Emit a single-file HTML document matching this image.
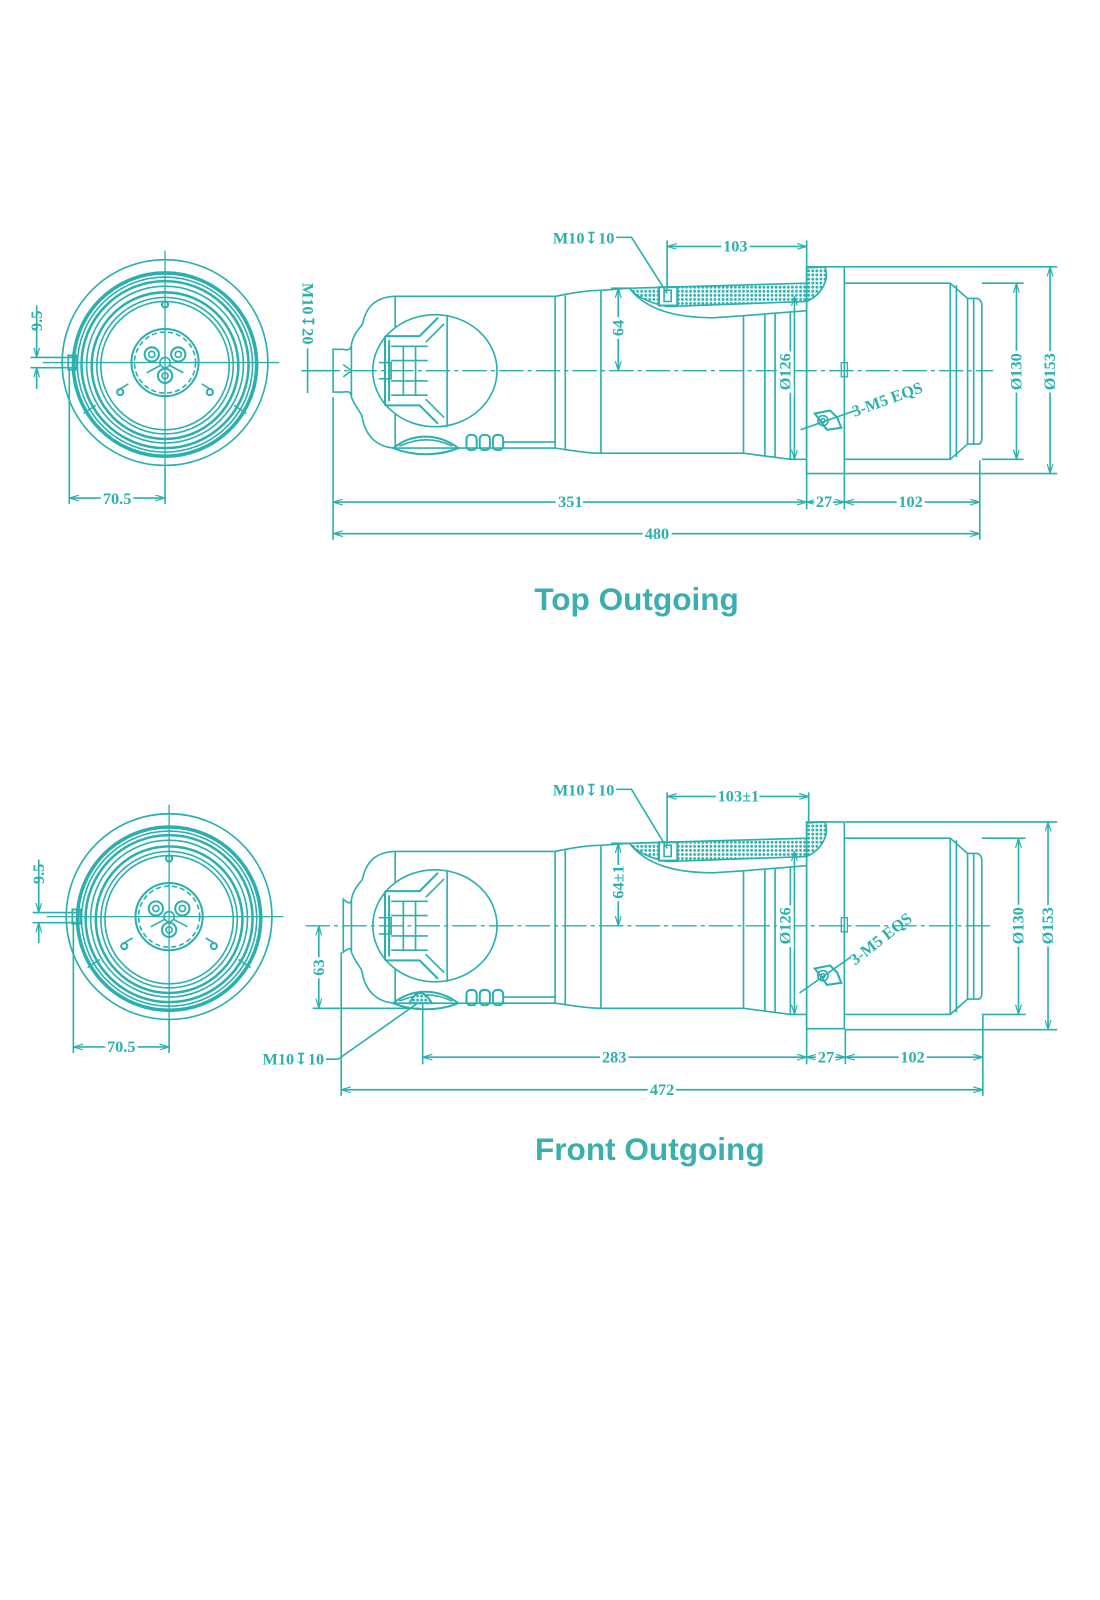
<!DOCTYPE html>
<html><head><meta charset="utf-8"><style>
html,body{margin:0;padding:0;background:#fff;}
svg{display:block}
text{font-family:"Liberation Serif","DejaVu Serif",serif;font-weight:bold;fill:#2bb0ae;}
.t{font-family:"Liberation Sans",sans-serif;font-size:31px;fill:#3aafae;}
</style></head><body>
<svg width="1100" height="1600" viewBox="0 0 1080 1571" xmlns="http://www.w3.org/2000/svg">
<defs>
<pattern id="h" width="4" height="4" patternUnits="userSpaceOnUse"><rect width="4" height="4" fill="#fff"/><circle cx="2" cy="2" r="1.4" fill="#2bb0ae"/></pattern>
<marker id="a" viewBox="0 0 10 6" refX="10" refY="3" markerWidth="6" markerHeight="4" orient="auto-start-reverse"><path d="M0,0 L10,3 L0,6" fill="none" stroke="#2bb0ae" stroke-width="1.2"/></marker>

<g id="circ">
 <circle r="101" fill="none" stroke-width="1.6"/>
 <circle cy="2" r="90" fill="none" stroke-width="3.5"/>
 <circle cy="2" r="86" fill="none" stroke-width="1.6"/>
 <circle cy="2" r="82" fill="none" stroke-width="2.5"/>
 <circle cy="2" r="77" fill="none" stroke-width="1.6"/>
 <circle cy="3" r="72" fill="none" stroke-width="2.5"/>
 <circle cy="3" r="67" fill="none" stroke-width="1.6"/>
 <circle cy="3" r="63" fill="none" stroke-width="1.6"/>
 <circle r="33" fill="none" stroke-width="2"/>
 <circle r="30" fill="none" stroke-dasharray="5 3"/>
 <circle cx="-13" cy="-8" r="7" fill="none" stroke-width="2"/><circle cx="-13" cy="-8" r="3" fill="none"/>
 <circle cx="13" cy="-8" r="7" fill="none" stroke-width="2"/><circle cx="13" cy="-8" r="3" fill="none"/>
 <circle cx="0" cy="13" r="7" fill="none" stroke-width="2"/><circle cx="0" cy="13" r="3" fill="none"/>
 <circle r="5" fill="none"/>
 <path d="M-46,27 L-36,21 M46,27 L36,21 M-80,50 L-68,42 M80,50 L68,42 M-18,10 L-5,3 M18,10 L5,3" fill="none"/>
 <circle cx="-44" cy="29" r="3" fill="none" stroke-width="2"/><circle cx="44" cy="29" r="3" fill="none" stroke-width="2"/>
 <circle cx="0" cy="-57" r="3" fill="none" stroke-width="2"/>
 <rect x="-95" y="-7" width="8" height="14" fill="none" stroke-width="1.8"/>
 <path d="M-120,0 H112 M0,-110 V105" stroke-width="1.3"/>
</g>

<g id="body" fill="none">
 <path d="M345,338 C348,325 354,322 356,318 C360,298 372,291 390,291 L545,291 C560,288 575,285 590,285 L618,283"/>
 <path d="M345,390 C350,402 356,406 356,412 C360,430 372,440 390,440 L545,440 C560,442 575,445 590,445 L730,445 L776,451 L792,451"/>
 <line x1="388" y1="291" x2="388" y2="440"/>
 <line x1="545" y1="291" x2="545" y2="440"/><line x1="555" y1="290" x2="555" y2="441"/>
 <line x1="590" y1="285" x2="590" y2="445"/>
 <line x1="730" y1="310" x2="730" y2="445"/><line x1="751" y1="309" x2="751" y2="448"/><line x1="761" y1="308" x2="761" y2="449"/><line x1="776" y1="307" x2="776" y2="451"/>
 <ellipse cx="427" cy="364" rx="61" ry="55" fill="#fff"/>
 <line x1="439" y1="310" x2="439" y2="419"/>
 <path d="M378,330 H412 L430,312 M378,398 H412 L430,416 M378,330 V398 M382,334 V394" stroke-width="2"/>
 <path d="M384,340 H420 M384,354 H420 M384,374 H420 M384,388 H420 M396,340 V388 M408,340 V388 M372,356 H384 V372 H372" />
 <path d="M418,336 L436,318 M418,392 L436,410"/>
 <path d="M386,440 C405,425 430,425 450,440 C430,448 405,448 386,440 Z" stroke-width="2"/>
 <path d="M392,438 C410,430 428,430 444,438"/>
 <rect x="458" y="427" width="10" height="15" rx="4" stroke-width="2"/><rect x="471" y="427" width="10" height="15" rx="4" stroke-width="2"/><rect x="484" y="427" width="10" height="15" rx="4" stroke-width="2"/>
 <line x1="494" y1="434" x2="545" y2="434"/>
 <path d="M618,283 L792,278 L792,263 L810,262 C815,275 806,290 792,296 L655,301 C640,298 625,292 618,283 Z" fill="url(#h)"/>
 <path d="M618,283 C635,305 665,312 700,312 L730,310 L792,305"/>
 <rect x="647" y="282" width="18" height="18" fill="#fff" stroke-width="2"/>
 <rect x="652" y="285" width="7" height="11"/>
 <path d="M792,262 H829 V465 H792 Z" fill="none"/>
 <line x1="792" y1="278" x2="792" y2="452"/>
 <rect x="826" y="356" width="6" height="14" stroke-width="1.3"/>
 <path d="M829,278 H933 L950,293 L960,293 Q964,295 964,300 V430 Q964,436 960,436 L950,436 L933,451 H829"/>
 <line x1="933" y1="278" x2="933" y2="451"/><line x1="939" y1="280" x2="939" y2="449"/>
 <line x1="950" y1="293" x2="950" y2="436"/><line x1="956" y1="293" x2="956" y2="436"/>
 <path d="M800,406 L815,403 L822,410 L826,420 L812,422 Z" stroke-width="2"/><circle cx="808" cy="413" r="5"/><circle cx="808" cy="413" r="2"/>
</g>
</defs>

<g stroke="#2bb0ae" stroke-width="1.6" fill="none">
<use href="#circ" x="162" y="356"/>
<path d="M36,300 V351 M36,367 V382 M30,351 H75 M30,361 H75" />
<line x1="36" y1="340" x2="36" y2="351" marker-end="url(#a)"/><line x1="36" y1="372" x2="36" y2="361" marker-end="url(#a)"/>
<path d="M68,362 V495 M162,460 V495"/>
<line x1="68" y1="489" x2="162" y2="489" marker-start="url(#a)" marker-end="url(#a)"/>

<use href="#body"/>
<path d="M327,343 H337 Q345,345 345,338 V390 Q345,383 337,385 H327 Z M337,358 L345,364 L337,370"/>
<path d="M310,364 H975" stroke-dasharray="24 4 4 4" stroke-width="1.3"/>
<path d="M296,364 H330 M302,342 V386"/>
<path d="M327,390 V530 M792,452 V500 M829,466 V500 M962,452 V530"/>
<line x1="327" y1="493" x2="792" y2="493" marker-start="url(#a)" marker-end="url(#a)"/>
<line x1="792" y1="493" x2="829" y2="493" marker-start="url(#a)" marker-end="url(#a)"/>
<line x1="829" y1="493" x2="962" y2="493" marker-start="url(#a)" marker-end="url(#a)"/>
<line x1="327" y1="524" x2="962" y2="524" marker-start="url(#a)" marker-end="url(#a)"/>
<path d="M655,236 V284 M792,236 V262"/>
<line x1="655" y1="242" x2="792" y2="242" marker-start="url(#a)" marker-end="url(#a)"/>
<path d="M605,233 H620 L655,288"/>
<path d="M600,283 H618"/>
<line x1="607" y1="283" x2="607" y2="364" marker-start="url(#a)" marker-end="url(#a)"/>
<line x1="780" y1="291" x2="780" y2="451" marker-start="url(#a)" marker-end="url(#a)"/>
<path d="M964,278 H1005 M964,451 H1005 M829,262 H1038 M829,465 H1038"/>
<line x1="998" y1="278" x2="998" y2="451" marker-start="url(#a)" marker-end="url(#a)"/>
<line x1="1031" y1="262" x2="1031" y2="465" marker-start="url(#a)" marker-end="url(#a)"/>
<path d="M786,422 L840,403"/>

<use href="#circ" x="166" y="900"/>
<path d="M38,844 V896 M38,912 V926 M32,896 H78 M32,906 H78"/>
<line x1="38" y1="885" x2="38" y2="896" marker-end="url(#a)"/><line x1="38" y1="917" x2="38" y2="906" marker-end="url(#a)"/>
<path d="M72,905 V1034 M166,1000 V1034"/>
<line x1="72" y1="1028" x2="166" y2="1028" marker-start="url(#a)" marker-end="url(#a)"/>

<g transform="translate(0,545)"><use href="#body"/></g>
<path d="M337,883 Q345,890 345,883 V935 Q345,928 337,935 Z"/>
<path d="M300,909 H975" stroke-dasharray="24 4 4 4" stroke-width="1.3"/>
<path d="M402,985 Q412,965 424,985 Z" fill="url(#h)" stroke-width="2"/>
<path d="M307,990 H412"/>
<line x1="313" y1="909" x2="313" y2="990" marker-start="url(#a)" marker-end="url(#a)"/>
<path d="M415,985 V1045 M335,935 V1076 M792,997 V1045 M830,1011 V1045 M965,997 V1076"/>
<line x1="415" y1="1038" x2="792" y2="1038" marker-start="url(#a)" marker-end="url(#a)"/>
<line x1="792" y1="1038" x2="830" y2="1038" marker-start="url(#a)" marker-end="url(#a)"/>
<line x1="830" y1="1038" x2="965" y2="1038" marker-start="url(#a)" marker-end="url(#a)"/>
<line x1="335" y1="1070" x2="965" y2="1070" marker-start="url(#a)" marker-end="url(#a)"/>
<path d="M320,1040 H332 L410,985"/>
<path d="M655,778 V829 M794,778 V808"/>
<line x1="655" y1="782" x2="794" y2="782" marker-start="url(#a)" marker-end="url(#a)"/>
<path d="M605,775 H620 L655,833"/>
<path d="M600,828 H618"/>
<line x1="607" y1="828" x2="607" y2="909" marker-start="url(#a)" marker-end="url(#a)"/>
<line x1="780" y1="836" x2="780" y2="996" marker-start="url(#a)" marker-end="url(#a)"/>
<path d="M964,823 H1007 M964,996 H1007 M830,807 H1038 M830,1011 H1038"/>
<line x1="1000" y1="823" x2="1000" y2="996" marker-start="url(#a)" marker-end="url(#a)"/>
<line x1="1029" y1="807" x2="1029" y2="1011" marker-start="url(#a)" marker-end="url(#a)"/>
<path d="M785,975 L835,940"/>
</g>

<g font-size="16">
<text x="36" y="315" transform="rotate(-90 36 315)" text-anchor="middle" dy="5">9.5</text>
<text x="115" y="495" text-anchor="middle" stroke="#fff" stroke-width="6" style="paint-order:stroke">70.5</text>
<text x="573" y="239" text-anchor="middle">M10↧10</text>
<text x="302" y="308" transform="rotate(90 302 308)" text-anchor="middle" dy="5">M10↧20</text>
<text x="722" y="247" text-anchor="middle" stroke="#fff" stroke-width="6" style="paint-order:stroke">103</text>
<text x="607" y="322" transform="rotate(-90 607 322)" text-anchor="middle" dy="5" stroke="#fff" stroke-width="6" style="paint-order:stroke">64</text>
<text x="771" y="365" transform="rotate(-90 771 365)" text-anchor="middle" dy="5" stroke="#fff" stroke-width="6" style="paint-order:stroke">Ø126</text>
<text x="998" y="365" transform="rotate(-90 998 365)" text-anchor="middle" dy="5" stroke="#fff" stroke-width="6" style="paint-order:stroke">Ø130</text>
<text x="1031" y="365" transform="rotate(-90 1031 365)" text-anchor="middle" dy="5" stroke="#fff" stroke-width="6" style="paint-order:stroke">Ø153</text>
<text x="873" y="397" transform="rotate(-20 873 397)" text-anchor="middle">3-M5 EQS</text>
<text x="560" y="498" text-anchor="middle" stroke="#fff" stroke-width="6" style="paint-order:stroke">351</text>
<text x="809" y="498" text-anchor="middle" stroke="#fff" stroke-width="6" style="paint-order:stroke">27</text>
<text x="894" y="498" text-anchor="middle" stroke="#fff" stroke-width="6" style="paint-order:stroke">102</text>
<text x="645" y="529" text-anchor="middle" stroke="#fff" stroke-width="6" style="paint-order:stroke">480</text>

<text x="38" y="858" transform="rotate(-90 38 858)" text-anchor="middle" dy="5">9.5</text>
<text x="119" y="1033" text-anchor="middle" stroke="#fff" stroke-width="6" style="paint-order:stroke">70.5</text>
<text x="573" y="781" text-anchor="middle">M10↧10</text>
<text x="288" y="1045" text-anchor="middle">M10↧10</text>
<text x="725" y="787" text-anchor="middle" stroke="#fff" stroke-width="6" style="paint-order:stroke">103±1</text>
<text x="607" y="866" transform="rotate(-90 607 866)" text-anchor="middle" dy="5" stroke="#fff" stroke-width="6" style="paint-order:stroke">64±1</text>
<text x="313" y="950" transform="rotate(-90 313 950)" text-anchor="middle" dy="5" stroke="#fff" stroke-width="6" style="paint-order:stroke">63</text>
<text x="771" y="909" transform="rotate(-90 771 909)" text-anchor="middle" dy="5" stroke="#fff" stroke-width="6" style="paint-order:stroke">Ø126</text>
<text x="1000" y="909" transform="rotate(-90 1000 909)" text-anchor="middle" dy="5" stroke="#fff" stroke-width="6" style="paint-order:stroke">Ø130</text>
<text x="1029" y="909" transform="rotate(-90 1029 909)" text-anchor="middle" dy="5" stroke="#fff" stroke-width="6" style="paint-order:stroke">Ø153</text>
<text x="868" y="926" transform="rotate(-38 868 926)" text-anchor="middle">3-M5 EQS</text>
<text x="603" y="1043" text-anchor="middle" stroke="#fff" stroke-width="6" style="paint-order:stroke">283</text>
<text x="811" y="1043" text-anchor="middle" stroke="#fff" stroke-width="6" style="paint-order:stroke">27</text>
<text x="896" y="1043" text-anchor="middle" stroke="#fff" stroke-width="6" style="paint-order:stroke">102</text>
<text x="650" y="1075" text-anchor="middle" stroke="#fff" stroke-width="6" style="paint-order:stroke">472</text>
</g>

<text class="t" x="625" y="599" text-anchor="middle">Top Outgoing</text>
<text class="t" x="638" y="1139" text-anchor="middle">Front Outgoing</text>
</svg>
</body></html>
